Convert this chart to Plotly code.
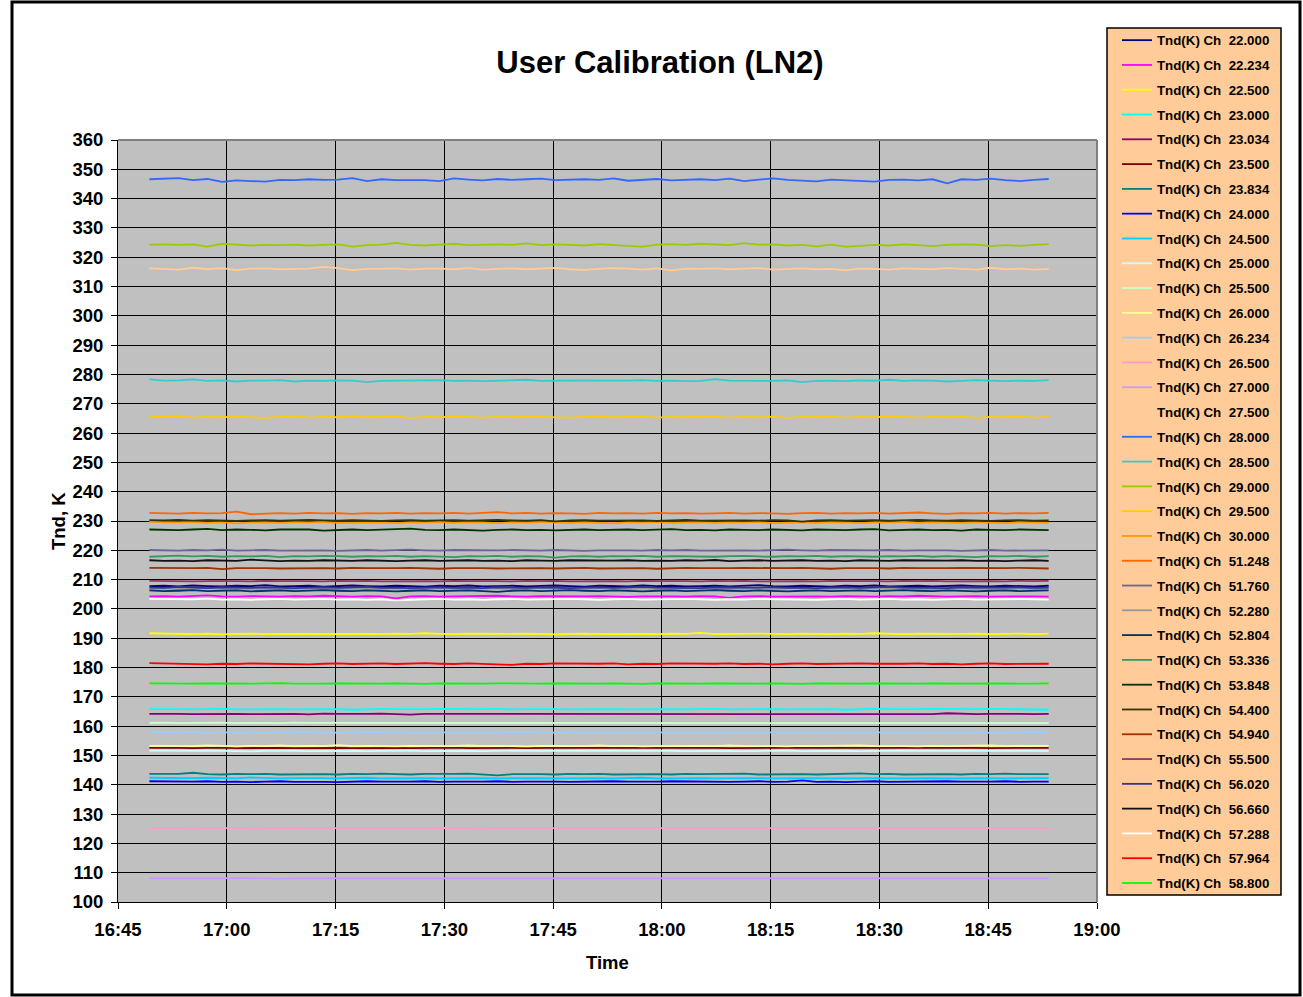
import plotly.graph_objects as go
import pandas as pd

# ---------------- data ----------------
channels = ["22.000", "22.234", "22.500", "23.000", "23.034", "23.500", "23.834",
            "24.000", "24.500", "25.000", "25.500", "26.000", "26.234", "26.500",
            "27.000", "27.500", "28.000", "28.500", "29.000", "29.500", "30.000",
            "51.248", "51.760", "52.280", "52.804", "53.336", "53.848", "54.400",
            "54.940", "55.500", "56.020", "56.660", "57.288", "57.964", "58.800"]

colors = ["#000080", "#FF00FF", "#FFFF00", "#00FFFF", "#800080", "#800000", "#008080",
          "#0000FF", "#00CCFF", "#CCFFFF", "#CCFFCC", "#FFFF99", "#99CCFF", "#FF99CC",
          "#CC99FF", "#FFCC99", "#3366FF", "#33CCCC", "#99CC00", "#FFCC00", "#FF9900",
          "#FF6600", "#666699", "#969696", "#003366", "#339966", "#003300", "#333300",
          "#993300", "#993366", "#333399", "#111111", "#FFFFFF", "#FF0000", "#00FF00"]

ch_22_000 = [207.8, 207.9, 207.7, 208.0, 207.8, 207.7, 207.9, 207.8, 208.1, 207.7,
             207.8, 207.9, 207.6, 207.8, 208.0, 207.8, 207.7, 207.9, 207.8, 207.6,
             207.9, 207.8, 208.0, 207.7, 207.8, 207.9, 207.7, 207.8, 208.0, 207.8,
             207.6, 207.9, 207.8, 207.7, 208.0, 207.8, 207.9, 207.7, 207.8, 207.9,
             207.7, 207.8, 208.1, 207.8, 207.7, 207.9, 207.8, 207.6, 207.9, 207.8,
             208.0, 207.7, 207.8, 207.9, 207.7, 207.8, 208.0, 207.8, 207.7, 207.9,
             207.8, 207.7, 207.9]
ch_22_234 = [204.3, 204.4, 204.2, 204.4, 204.6, 204.3, 204.2, 204.4, 204.3, 204.2,
             204.4, 204.3, 204.5, 204.3, 204.2, 204.4, 204.3, 203.6, 204.3, 204.4,
             204.2, 204.3, 204.4, 204.3, 204.5, 204.3, 204.2, 204.4, 204.3, 204.2,
             204.3, 204.4, 204.3, 204.1, 204.3, 204.4, 204.3, 204.2, 204.4, 204.3,
             203.8, 204.3, 204.4, 204.2, 204.3, 204.4, 204.3, 204.2, 204.4, 204.3,
             204.2, 204.4, 204.3, 204.5, 204.3, 204.2, 204.3, 204.4, 204.2, 204.3,
             204.4, 204.3, 204.2]
ch_22_500 = [191.7, 191.6, 191.5, 191.4, 191.6, 191.3, 191.5, 191.6, 191.4, 191.5,
             191.6, 191.5, 191.4, 191.5, 191.6, 191.5, 191.4, 191.6, 191.5, 191.7,
             191.5, 191.4, 191.6, 191.5, 191.4, 191.5, 191.6, 191.5, 191.3, 191.5,
             191.6, 191.4, 191.5, 191.6, 191.5, 191.4, 191.6, 191.5, 191.8, 191.4,
             191.5, 191.4, 191.6, 191.5, 191.4, 191.6, 191.5, 191.4, 191.6, 191.5,
             191.7, 191.5, 191.4, 191.6, 191.5, 191.4, 191.5, 191.6, 191.4, 191.5,
             191.6, 191.4, 191.6]
ch_23_000 = [165.8, 165.9, 165.8, 165.7, 165.8, 165.9, 165.7, 165.8, 165.9, 165.8,
             165.7, 165.8, 165.9, 165.8, 165.6, 165.8, 165.9, 165.8, 165.7, 165.8,
             165.9, 165.8, 165.7, 165.8, 165.9, 165.7, 165.8, 165.9, 165.8, 165.7,
             165.8, 165.9, 165.8, 165.7, 165.8, 165.9, 165.8, 165.7, 165.8, 165.9,
             165.7, 165.8, 165.9, 165.8, 165.7, 165.8, 165.9, 165.8, 165.6, 165.8,
             165.9, 165.8, 165.7, 165.8, 165.9, 165.8, 165.7, 165.8, 165.9, 165.8,
             165.7, 165.8, 165.6]
ch_23_034 = [164.2, 164.3, 164.2, 164.1, 164.2, 164.3, 164.2, 164.1, 164.2, 164.3,
             164.2, 164.0, 164.3, 164.2, 164.1, 164.2, 164.3, 164.2, 163.9, 164.2,
             164.2, 164.3, 164.2, 164.1, 164.2, 164.3, 164.2, 164.1, 164.2, 164.3,
             164.2, 164.1, 164.2, 164.3, 164.1, 164.2, 164.3, 164.2, 164.1, 164.2,
             164.3, 164.2, 164.1, 164.2, 164.3, 164.2, 164.1, 164.2, 164.3, 164.2,
             164.1, 164.2, 164.3, 164.2, 164.1, 164.4, 164.2, 164.1, 164.2, 164.3,
             164.2, 164.1, 164.2]
ch_23_500 = [152.6, 152.7, 152.6, 152.5, 152.6, 152.7, 152.5, 152.6, 152.7, 152.6,
             152.5, 152.6, 152.7, 152.6, 152.5, 152.6, 152.7, 152.6, 152.5, 152.6,
             152.6, 152.7, 152.5, 152.6, 152.7, 152.6, 152.5, 152.6, 152.6, 152.7,
             152.6, 152.5, 152.6, 152.7, 152.6, 152.5, 152.6, 152.6, 152.7, 152.6,
             152.5, 152.6, 152.7, 152.6, 152.6, 152.5, 152.6, 152.7, 152.6, 152.5,
             152.6, 152.7, 152.6, 152.5, 152.6, 152.6, 152.7, 152.6, 152.5, 152.6,
             152.7, 152.6, 152.6]
ch_23_834 = [143.7, 143.6, 143.7, 144.1, 143.6, 143.5, 143.7, 143.6, 143.7, 143.5,
             143.6, 143.7, 143.6, 143.5, 143.7, 143.6, 143.8, 143.6, 143.5, 143.7,
             143.6, 143.7, 143.8, 143.6, 143.2, 143.6, 143.7, 143.6, 143.5, 143.7,
             143.6, 143.7, 143.5, 143.6, 143.7, 143.6, 143.5, 143.7, 143.6, 143.7,
             143.6, 143.8, 143.5, 143.6, 143.7, 143.6, 143.5, 143.6, 143.7, 143.9,
             143.6, 143.7, 143.5, 143.6, 143.7, 143.6, 143.5, 143.7, 143.6, 143.8,
             143.6, 143.7, 143.6]
ch_24_000 = [141.2, 141.1, 141.0, 141.1, 141.2, 141.0, 141.1, 140.9, 141.1, 141.2,
             141.0, 141.1, 141.0, 140.9, 141.1, 141.2, 141.1, 141.0, 141.1, 141.2,
             141.0, 141.1, 141.0, 141.1, 141.2, 141.0, 141.1, 141.2, 141.1, 141.0,
             141.1, 141.0, 141.2, 141.1, 141.0, 141.1, 141.2, 141.1, 141.0, 141.1,
             141.0, 141.1, 141.2, 141.0, 141.1, 141.5, 141.0, 141.1, 140.9, 141.1,
             141.2, 141.0, 141.1, 141.0, 141.1, 141.2, 141.1, 141.0, 141.1, 141.2,
             141.0, 141.1, 141.1]
ch_24_500 = [142.4, 142.3, 142.2, 142.3, 142.4, 142.3, 142.2, 142.5, 142.3, 142.2,
             142.3, 142.4, 142.3, 142.2, 142.3, 142.4, 142.2, 142.3, 142.4, 142.3,
             142.2, 142.3, 142.4, 142.3, 142.2, 142.3, 142.4, 142.3, 142.2, 142.3,
             142.4, 142.3, 142.2, 142.3, 142.4, 142.2, 142.3, 142.4, 142.3, 142.2,
             142.3, 142.4, 142.3, 142.2, 142.3, 142.4, 142.3, 142.2, 142.3, 142.4,
             142.3, 142.2, 142.3, 142.4, 142.3, 142.2, 142.3, 142.4, 142.3, 142.2,
             142.3, 142.4, 142.3]
ch_25_000 = [151.7, 151.6, 151.5, 151.6, 151.7, 151.6, 151.5, 151.4, 151.6, 151.7,
             151.6, 151.5, 151.6, 151.7, 151.6, 151.5, 151.6, 151.6, 151.7, 151.5,
             151.6, 151.7, 151.6, 151.5, 151.6, 151.6, 151.7, 151.6, 151.5, 151.6,
             151.7, 151.6, 151.5, 151.6, 151.6, 151.7, 151.6, 151.5, 151.6, 151.7,
             151.6, 151.5, 151.6, 151.6, 151.7, 151.5, 151.6, 151.7, 151.6, 151.5,
             151.6, 151.6, 151.7, 151.6, 151.5, 151.6, 151.7, 151.6, 151.5, 151.6,
             151.6, 151.7, 151.6]
ch_25_500 = [161.1, 161.2, 161.0, 161.1, 161.1, 161.2, 161.0, 161.1, 161.1, 161.0,
             161.2, 161.1, 161.1, 161.0, 161.1, 161.2, 161.1, 161.1, 161.0, 161.1,
             161.1, 161.2, 161.1, 161.0, 161.1, 161.1, 161.2, 161.1, 161.0, 161.1,
             161.1, 161.1, 161.2, 161.1, 161.0, 161.1, 161.1, 161.2, 161.1, 161.1,
             161.0, 161.1, 161.2, 161.1, 161.1, 161.0, 161.1, 161.1, 161.2, 161.1,
             161.0, 161.1, 161.1, 161.2, 161.1, 161.0, 161.1, 161.1, 161.2, 161.0,
             161.1, 161.1, 161.0]
ch_26_000 = [153.3, 153.2, 153.3, 153.2, 153.4, 153.2, 153.1, 153.3, 153.2, 153.4,
             153.2, 153.3, 153.2, 153.5, 153.2, 153.3, 153.2, 153.1, 153.3, 153.2,
             153.3, 153.2, 153.4, 153.2, 153.3, 153.2, 153.1, 153.3, 153.2, 153.3,
             153.2, 153.4, 153.2, 153.3, 153.1, 153.2, 153.3, 153.2, 153.3, 153.2,
             153.4, 153.2, 153.3, 153.2, 153.1, 153.3, 153.2, 153.3, 153.2, 153.4,
             153.2, 153.3, 153.2, 153.1, 153.3, 153.2, 153.3, 153.2, 153.4, 153.2,
             153.3, 153.2, 153.3]
ch_26_234 = [158.0, 157.9, 157.9, 158.0, 157.8, 157.9, 158.0, 157.9, 157.8, 157.9,
             157.9, 158.0, 157.7, 157.9, 157.9, 158.0, 157.9, 157.8, 157.9, 157.9,
             158.0, 157.9, 157.9, 157.8, 157.9, 158.0, 157.9, 157.9, 157.8, 157.9,
             157.9, 158.0, 157.9, 157.8, 157.9, 157.9, 158.0, 157.9, 157.8, 157.9,
             157.9, 157.9, 158.0, 157.8, 157.9, 157.9, 158.0, 157.9, 157.8, 157.9,
             157.9, 158.0, 157.9, 157.8, 157.9, 157.9, 158.0, 157.9, 157.7, 157.9,
             157.9, 158.0, 157.9]
ch_26_500 = [125.3, 125.2, 125.2, 125.1, 125.2, 125.3, 125.2, 125.1, 125.2, 125.2,
             125.3, 125.2, 125.1, 125.2, 125.2, 125.3, 125.2, 125.2, 125.1, 125.2,
             125.3, 125.2, 125.2, 125.1, 125.2, 125.2, 125.3, 125.2, 125.1, 125.2,
             125.2, 125.3, 125.2, 125.2, 125.1, 125.2, 125.3, 125.2, 125.2, 125.1,
             125.2, 125.2, 125.3, 125.2, 125.1, 125.2, 125.2, 125.3, 125.2, 125.2,
             125.1, 125.2, 125.3, 125.2, 125.2, 125.1, 125.2, 125.2, 125.3, 125.2,
             125.1, 125.2, 125.2]
ch_27_000 = [108.1, 108.2, 108.1, 108.1, 108.0, 108.1, 108.2, 108.1, 108.1, 108.0,
             108.1, 108.1, 108.2, 108.1, 108.0, 108.1, 108.1, 108.2, 108.1, 108.1,
             108.0, 108.1, 108.2, 108.1, 108.1, 108.0, 108.1, 108.1, 108.2, 108.1,
             108.0, 108.1, 108.1, 108.2, 108.1, 108.1, 108.0, 108.1, 108.2, 108.1,
             108.1, 108.0, 108.1, 108.1, 108.2, 108.1, 108.0, 108.1, 108.1, 108.2,
             108.1, 108.1, 108.0, 108.1, 108.2, 108.1, 108.1, 108.0, 108.1, 108.1,
             108.2, 108.1, 108.1]
ch_27_500 = [316.2, 316.1, 315.8, 316.4, 315.9, 316.3, 315.6, 316.1, 316.2, 315.9,
             316.0, 316.1, 316.7, 316.3, 315.6, 316.0, 316.0, 316.2, 315.8, 316.1,
             316.1, 315.9, 316.3, 315.8, 316.0, 316.2, 315.9, 316.1, 316.4, 315.9,
             315.7, 316.0, 316.3, 316.1, 315.8, 316.2, 315.5, 316.1, 316.0, 316.2,
             315.9, 316.1, 316.3, 315.8, 316.0, 316.2, 315.9, 316.0, 315.6, 316.1,
             316.0, 315.8, 316.2, 316.0, 315.9, 316.3, 316.0, 315.8, 316.4, 315.9,
             316.1, 315.8, 316.0]
ch_28_000 = [346.6, 346.8, 347.0, 346.3, 346.7, 345.7, 346.2, 346.0, 345.8, 346.4,
             346.3, 346.6, 346.4, 346.5, 347.0, 346.0, 346.6, 346.3, 346.4, 346.3,
             346.0, 346.9, 346.5, 346.2, 346.7, 346.4, 346.6, 346.8, 346.3, 346.5,
             346.6, 346.4, 346.9, 346.1, 346.4, 346.7, 346.2, 346.5, 346.6, 346.3,
             346.8, 346.0, 346.5, 346.9, 346.4, 346.2, 345.9, 346.5, 346.3, 346.0,
             345.8, 346.4, 346.5, 346.2, 346.6, 345.2, 346.6, 346.4, 346.8, 346.3,
             346.0, 346.4, 346.7]
ch_28_500 = [278.3, 277.9, 278.0, 278.3, 277.8, 278.0, 277.6, 277.9, 277.9, 278.1,
             277.6, 277.9, 277.8, 278.0, 277.9, 277.4, 277.8, 277.9, 278.0, 277.9,
             278.1, 277.8, 277.9, 277.7, 277.8, 278.0, 278.2, 277.8, 277.9, 277.8,
             278.0, 277.9, 277.8, 277.9, 278.1, 277.8, 277.9, 277.7, 277.8, 278.4,
             277.9, 277.8, 277.7, 277.8, 278.0, 277.4, 277.8, 277.9, 277.7, 278.0,
             277.9, 278.2, 277.8, 278.0, 277.9, 277.6, 277.8, 278.1, 277.9, 277.7,
             277.9, 277.8, 278.1]
ch_29_000 = [324.3, 324.4, 324.2, 324.4, 323.6, 324.6, 324.3, 324.0, 324.2, 324.1,
             324.3, 324.0, 324.2, 324.4, 323.6, 324.1, 324.3, 324.9, 324.2, 324.0,
             324.3, 324.6, 324.1, 324.3, 324.4, 324.2, 324.7, 324.1, 324.4, 324.2,
             324.0, 324.5, 324.1, 323.9, 323.6, 324.3, 324.5, 324.2, 324.6, 324.4,
             324.1, 324.8, 324.3, 324.4, 324.0, 324.2, 323.7, 324.3, 323.6, 323.9,
             324.2, 324.0, 324.4, 324.1, 323.8, 324.2, 324.4, 324.3, 323.8, 324.1,
             323.9, 324.2, 324.5]
ch_29_500 = [265.6, 265.5, 265.7, 265.3, 265.5, 265.4, 265.6, 265.4, 265.2, 265.5,
             265.6, 265.3, 265.5, 265.4, 265.7, 265.4, 265.5, 265.6, 265.2, 265.5,
             265.4, 265.6, 265.5, 265.3, 265.5, 265.4, 265.6, 265.5, 265.4, 265.3,
             265.5, 265.7, 265.4, 265.5, 265.6, 265.3, 265.5, 265.4, 265.6, 265.5,
             265.3, 265.5, 265.4, 265.6, 265.2, 265.5, 265.4, 265.6, 265.3, 265.5,
             265.4, 265.7, 265.5, 265.3, 265.5, 265.4, 265.6, 265.2, 265.5, 265.4,
             265.6, 265.3, 265.5]
ch_30_000 = [229.7, 229.6, 229.5, 229.7, 229.4, 229.6, 229.2, 229.5, 229.6, 229.4,
             229.6, 229.5, 229.7, 229.4, 229.5, 229.6, 229.5, 229.3, 229.6, 229.5,
             229.7, 229.4, 229.6, 229.5, 229.3, 229.6, 229.5, 229.7, 229.5, 229.4,
             229.6, 229.5, 229.2, 229.6, 229.5, 229.7, 229.4, 229.5, 229.6, 229.4,
             229.6, 229.5, 229.7, 229.3, 229.5, 229.6, 229.4, 229.6, 229.5, 229.3,
             229.6, 229.5, 229.7, 229.4, 229.6, 229.5, 229.4, 229.6, 229.5, 229.3,
             229.6, 229.5, 229.4]
ch_51_248 = [232.8, 232.7, 232.5, 232.8, 232.6, 232.7, 233.2, 232.3, 232.6, 232.7,
             232.5, 232.8, 232.6, 232.7, 232.4, 232.7, 232.6, 232.8, 232.5, 232.7,
             232.6, 232.8, 232.5, 232.7, 233.0, 232.6, 232.8, 232.5, 232.7, 232.6,
             232.4, 232.8, 232.6, 232.7, 232.5, 232.8, 232.6, 232.7, 232.5, 232.6,
             232.8, 232.5, 232.7, 232.6, 232.4, 232.7, 232.8, 232.5, 232.7, 232.6,
             232.8, 232.5, 232.7, 232.9, 232.6, 232.4, 232.7, 232.6, 232.8, 232.5,
             232.7, 232.6, 232.8]
ch_51_760 = [220.1, 220.0, 219.9, 220.1, 220.0, 220.2, 219.9, 220.0, 220.1, 219.9,
             220.0, 220.1, 220.0, 219.8, 220.0, 220.1, 219.9, 220.0, 220.2, 220.0,
             219.9, 220.1, 220.0, 219.9, 220.0, 220.1, 220.0, 219.9, 220.1, 220.0,
             219.8, 220.0, 220.1, 220.0, 219.9, 220.1, 220.0, 220.1, 219.9, 220.0,
             220.1, 220.0, 219.9, 220.0, 220.2, 220.0, 219.9, 220.1, 220.0, 219.9,
             220.0, 220.1, 219.9, 220.0, 220.1, 220.0, 219.8, 220.0, 220.1, 219.9,
             220.0, 220.1, 220.0]
ch_52_280 = [206.9, 207.0, 206.8, 206.9, 207.1, 206.8, 206.9, 207.0, 206.9, 206.7,
             206.9, 207.0, 206.8, 206.9, 207.0, 206.9, 206.8, 207.0, 206.9, 206.8,
             207.0, 206.9, 206.7, 206.9, 207.0, 206.8, 206.9, 207.1, 206.9, 206.8,
             206.9, 207.0, 206.9, 206.8, 207.0, 206.9, 206.7, 206.9, 207.0, 206.8,
             206.9, 207.0, 206.9, 206.8, 206.9, 207.1, 206.9, 206.8, 207.0, 206.9,
             206.8, 206.9, 207.0, 206.9, 206.7, 206.9, 207.0, 206.8, 206.9, 207.0,
             206.9, 206.8, 206.9]
ch_52_804 = [206.3, 206.1, 206.2, 206.4, 206.1, 206.2, 206.3, 206.0, 206.2, 206.3,
             206.1, 206.2, 206.4, 206.2, 206.1, 206.3, 206.2, 206.0, 206.2, 206.3,
             206.1, 206.2, 206.3, 206.1, 205.8, 206.2, 206.3, 206.1, 206.2, 206.4,
             206.2, 206.1, 206.3, 206.2, 206.0, 206.2, 206.3, 206.1, 206.2, 206.4,
             206.2, 206.1, 206.3, 206.2, 206.0, 206.2, 206.3, 206.1, 206.2, 206.3,
             206.1, 206.2, 206.4, 206.2, 206.1, 206.3, 206.2, 206.0, 206.2, 206.3,
             206.1, 206.2, 206.3]
ch_53_336 = [217.8, 218.0, 218.2, 217.9, 218.1, 217.8, 218.0, 217.9, 218.1, 217.7,
             218.0, 217.9, 218.1, 218.0, 217.8, 218.0, 217.9, 218.1, 217.8, 218.0,
             217.9, 217.7, 218.0, 217.9, 218.1, 217.8, 218.0, 217.9, 217.5, 217.9,
             218.0, 217.8, 218.0, 217.9, 218.1, 217.8, 218.0, 217.9, 218.0, 217.8,
             218.0, 218.1, 217.9, 217.8, 218.0, 217.9, 218.1, 217.8, 218.0, 217.9,
             217.8, 218.0, 217.9, 218.1, 217.8, 218.0, 217.9, 217.7, 218.0, 217.9,
             218.1, 217.8, 218.0]
ch_53_848 = [227.1, 227.0, 226.9, 227.1, 227.3, 226.9, 227.1, 227.0, 226.8, 227.1,
             227.0, 227.1, 226.7, 227.0, 227.1, 226.9, 227.0, 227.1, 227.4, 227.0,
             226.9, 227.1, 227.0, 226.7, 227.0, 227.1, 226.9, 227.0, 226.8, 227.0,
             227.1, 226.9, 227.0, 227.1, 226.9, 227.0, 227.2, 226.9, 227.0, 226.8,
             227.1, 227.0, 226.9, 227.1, 227.0, 226.8, 227.1, 227.0, 226.9, 227.1,
             227.2, 226.8, 227.0, 227.1, 226.9, 227.0, 226.7, 227.1, 227.0, 226.9,
             227.1, 227.0, 226.9]
ch_54_400 = [230.3, 230.2, 230.4, 230.1, 230.3, 230.2, 230.0, 230.2, 230.3, 230.1,
             230.2, 230.4, 230.2, 230.1, 230.3, 230.2, 230.0, 230.2, 230.3, 230.1,
             230.2, 230.3, 230.1, 230.2, 230.4, 230.2, 230.1, 230.3, 229.9, 230.2,
             230.3, 230.1, 230.2, 230.3, 230.2, 230.0, 230.2, 230.4, 230.1, 230.2,
             230.3, 230.2, 230.1, 230.3, 230.2, 229.8, 230.2, 230.3, 230.1, 230.2,
             230.3, 230.1, 230.2, 230.4, 230.2, 230.1, 230.3, 230.2, 230.0, 230.2,
             230.3, 230.1, 230.2]
ch_54_940 = [214.0, 213.9, 213.8, 213.9, 214.0, 213.6, 213.9, 214.0, 213.9, 213.8,
             213.9, 214.0, 213.9, 213.8, 214.0, 213.9, 213.8, 213.9, 214.0, 213.9,
             213.7, 213.9, 214.0, 213.9, 213.8, 213.9, 214.0, 213.9, 213.8, 213.9,
             214.0, 213.8, 213.9, 214.0, 213.9, 213.7, 213.9, 214.0, 213.9, 213.8,
             213.9, 214.0, 213.9, 213.8, 213.9, 214.0, 213.9, 213.7, 213.9, 214.0,
             213.9, 213.8, 214.0, 213.9, 213.8, 213.9, 214.0, 213.9, 213.8, 213.9,
             214.0, 213.9, 213.8]
ch_55_500 = [209.6, 209.5, 209.6, 209.4, 209.5, 209.6, 209.5, 209.4, 209.6, 209.5,
             209.6, 209.5, 209.4, 209.6, 209.5, 209.6, 209.4, 209.5, 209.6, 209.5,
             209.4, 209.6, 209.5, 209.6, 209.5, 209.4, 209.6, 209.5, 209.6, 209.4,
             209.5, 209.6, 209.5, 209.4, 209.6, 209.5, 209.6, 209.5, 209.4, 209.6,
             209.5, 209.6, 209.4, 209.5, 209.6, 209.5, 209.4, 209.6, 209.5, 209.6,
             209.5, 209.4, 209.6, 209.5, 209.6, 209.4, 209.5, 209.6, 209.5, 209.4,
             209.6, 209.5, 209.6]
ch_56_020 = [207.3, 207.2, 207.5, 207.3, 207.1, 207.4, 207.3, 207.2, 207.4, 207.3,
             207.1, 207.3, 207.4, 207.2, 207.3, 207.5, 207.2, 207.3, 207.1, 207.3,
             207.4, 207.2, 207.3, 207.1, 207.4, 207.3, 207.2, 207.4, 207.3, 207.1,
             207.3, 207.4, 207.2, 207.3, 207.5, 207.3, 207.2, 207.3, 207.1, 207.4,
             207.3, 207.2, 207.3, 207.4, 207.2, 207.3, 207.1, 207.3, 207.4, 207.2,
             207.3, 207.5, 207.3, 207.2, 207.3, 207.1, 207.4, 207.3, 207.2, 207.3,
             207.4, 207.2, 207.3]
ch_56_660 = [216.6, 216.4, 216.5, 216.3, 216.6, 216.5, 216.4, 216.8, 216.5, 216.3,
             216.5, 216.4, 216.6, 216.5, 216.4, 216.6, 216.5, 216.3, 216.5, 216.6,
             216.4, 216.5, 216.6, 216.4, 216.5, 216.3, 216.6, 216.5, 216.4, 216.6,
             216.5, 216.4, 216.5, 216.6, 216.4, 216.5, 216.4, 216.6, 216.5, 216.7,
             216.3, 216.5, 216.6, 216.4, 216.5, 216.6, 216.4, 216.5, 216.3, 216.6,
             216.5, 216.4, 216.6, 216.5, 216.4, 216.5, 216.6, 216.4, 216.5, 216.3,
             216.5, 216.6, 216.4]
ch_57_288 = [203.4, 203.3, 203.2, 203.3, 203.5, 203.2, 203.3, 203.1, 203.3, 203.4,
             203.2, 203.3, 203.4, 203.2, 203.3, 203.1, 203.3, 202.9, 203.2, 203.3,
             203.4, 203.2, 203.3, 203.1, 203.3, 203.4, 203.2, 203.3, 203.2, 203.4,
             203.3, 203.1, 203.3, 203.4, 203.2, 203.3, 203.2, 203.4, 203.3, 203.1,
             203.3, 203.2, 203.4, 203.3, 203.2, 203.3, 203.1, 203.3, 203.4, 203.2,
             203.3, 203.4, 203.2, 203.3, 203.1, 203.3, 203.4, 203.2, 203.3, 203.2,
             203.4, 203.3, 203.2]
ch_57_964 = [181.5, 181.4, 181.2, 181.3, 181.1, 181.3, 181.2, 181.4, 181.3, 181.2,
             181.3, 181.1, 181.3, 181.4, 181.2, 181.3, 181.4, 181.2, 181.3, 181.5,
             181.3, 181.2, 181.4, 181.3, 181.2, 180.9, 181.3, 181.2, 181.4, 181.3,
             181.2, 181.3, 181.4, 181.1, 181.3, 181.2, 181.4, 181.3, 181.2, 181.3,
             181.4, 181.2, 181.3, 181.1, 181.3, 181.4, 181.2, 181.3, 181.2, 181.4,
             181.3, 181.2, 181.3, 181.4, 181.2, 181.3, 181.1, 181.3, 181.4, 181.2,
             181.3, 181.4, 181.3]
ch_58_800 = [174.6, 174.5, 174.4, 174.5, 174.6, 174.5, 174.4, 174.5, 174.6, 174.7,
             174.5, 174.4, 174.5, 174.6, 174.5, 174.4, 174.5, 174.6, 174.5, 174.4,
             174.6, 174.5, 174.4, 174.5, 174.6, 174.5, 174.4, 174.5, 174.6, 174.5,
             174.4, 174.5, 174.6, 174.5, 174.4, 174.6, 174.5, 174.4, 174.5, 174.6,
             174.5, 174.4, 174.5, 174.6, 174.5, 174.4, 174.6, 174.5, 174.4, 174.5,
             174.6, 174.5, 174.4, 174.5, 174.6, 174.5, 174.4, 174.5, 174.6, 174.5,
             174.4, 174.5, 174.6]

series = [ch_22_000, ch_22_234, ch_22_500, ch_23_000, ch_23_034, ch_23_500, ch_23_834,
          ch_24_000, ch_24_500, ch_25_000, ch_25_500, ch_26_000, ch_26_234, ch_26_500,
          ch_27_000, ch_27_500, ch_28_000, ch_28_500, ch_29_000, ch_29_500, ch_30_000,
          ch_51_248, ch_51_760, ch_52_280, ch_52_804, ch_53_336, ch_53_848, ch_54_400,
          ch_54_940, ch_55_500, ch_56_020, ch_56_660, ch_57_288, ch_57_964, ch_58_800]

start_time = "2008-01-01 16:49:20"
sample_minutes = 2
x_range = ["2008-01-01 16:45", "2008-01-01 19:00"]

# ---------------- figure ----------------
FONT = "Arial, 'Liberation Sans', sans-serif"
W, H = 1303, 997
L, R, T, B = 118, 206, 140, 95
PW, PH = W - L - R, H - T - B

def px_x(px):
    return (px - L) / PW

def px_y(py):
    return (H - B - py) / PH

fig = go.Figure()
t0 = pd.Timestamp(start_time)
for lab, col, vals in zip(channels, colors, series):
    t = [t0 + pd.Timedelta(minutes=sample_minutes * i) for i in range(len(vals))]
    fig.add_trace(go.Scatter(
        x=t, y=vals, mode="lines", name="Tnd(K) Ch \u00a0" + lab,
        legendgroup=lab, line=dict(color=col, width=1.8), hoverinfo="skip"))

fig.update_layout(
    width=W, height=H,
    margin=dict(l=L, r=R, t=T, b=B, autoexpand=False),
    paper_bgcolor="white", plot_bgcolor="#C0C0C0",
    font=dict(family=FONT, color="black"),
    title=dict(text="User Calibration (LN2)", xref="container", x=660 / W,
               xanchor="center", yref="container", y=1 - 62 / H, yanchor="middle",
               font=dict(family=FONT, size=31, color="black", weight="bold")),
    showlegend=True,
    legend=dict(x=px_x(1117), y=px_y(25), xanchor="left", yanchor="top",
                bgcolor="rgba(0,0,0,0)", borderwidth=0,
                font=dict(family=FONT, size=13.3, color="black", weight="bold"),
                tracegroupgap=4.5, itemwidth=30),
    xaxis=dict(type="date", range=x_range, tick0=x_range[0], dtick=15 * 60 * 1000,
               tickformat="%H:%M", showgrid=True, gridcolor="black", gridwidth=1,
               showline=True, linecolor="black", linewidth=1,
               ticks="outside", ticklen=6, tickcolor="black", ticklabelstandoff=5,
               tickfont=dict(family=FONT, size=18.5, color="black", weight="bold"),
               zeroline=False),
    yaxis=dict(range=[100, 360], tick0=100, dtick=10, showgrid=True,
               gridcolor="black", gridwidth=1, showline=True, linecolor="black",
               linewidth=1, ticks="outside", ticklen=6, tickcolor="black",
               ticklabelstandoff=4,
               tickfont=dict(family=FONT, size=18.5, color="black", weight="bold"),
               zeroline=False),
    annotations=[
        dict(text="Tnd, K", xref="paper", yref="paper", x=px_x(58), y=0.5,
             textangle=-90, showarrow=False, xanchor="center", yanchor="middle",
             font=dict(family=FONT, size=18.5, color="black", weight="bold")),
        dict(text="Time", xref="paper", yref="paper", x=px_x(607), y=px_y(962),
             showarrow=False, xanchor="center", yanchor="middle",
             font=dict(family=FONT, size=18.5, color="black", weight="bold")),
    ],
    shapes=[
        dict(type="rect", xref="paper", yref="paper", x0=px_x(1107), x1=px_x(1281),
             y0=px_y(895), y1=px_y(28), line=dict(color="black", width=1.5),
             fillcolor="#FFCC99", layer="below"),
        dict(type="line", xref="paper", yref="paper", x0=0, x1=1, y0=1, y1=1,
             line=dict(color="#808080", width=2)),
        dict(type="line", xref="paper", yref="paper", x0=1, x1=1, y0=0, y1=1,
             line=dict(color="#808080", width=2)),
        dict(type="rect", xref="paper", yref="paper", x0=px_x(12), x1=px_x(1300),
             y0=px_y(995), y1=px_y(2), line=dict(color="black", width=3),
             fillcolor="rgba(0,0,0,0)", layer="above"),
    ],
)

try:
    fig.update_layout(legend_maxheight=900)
except Exception:
    pass

fig.write_html("out.html", config={"displayModeBar": False},
               post_script="document.body.style.margin='0';document.body.style.overflow='hidden';")
